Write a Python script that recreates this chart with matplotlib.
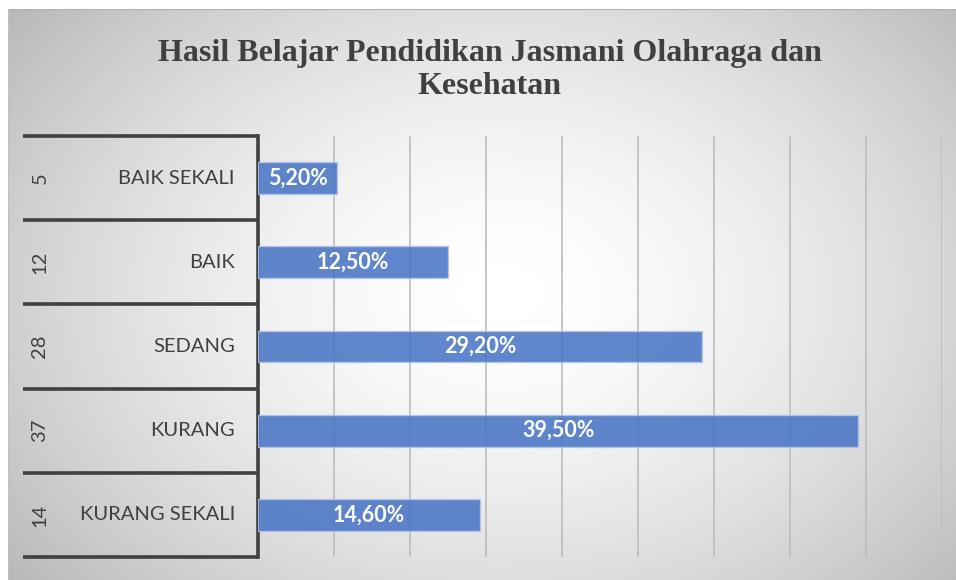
import numpy as np
import matplotlib.pyplot as plt
from matplotlib.transforms import blended_transform_factory

categories = ["BAIK SEKALI", "BAIK", "SEDANG", "KURANG", "KURANG SEKALI"]
counts = [5, 12, 28, 37, 14]
percents = [5.2, 12.5, 29.2, 39.5, 14.6]
title = "Hasil Belajar Pendidikan Jasmani Olahraga dan\nKesehatan"

W, H = 956, 580
fig = plt.figure(figsize=(W / 100, H / 100), dpi=100)

# chart area background (radial grey gradient), starts a few px in from the left/top
bg = fig.add_axes([8 / W, 0, 1 - 8 / W, 1 - 9 / H])
yy, xx = np.mgrid[0:1:300j, 0:1:500j]
r = np.sqrt(((xx - 0.52) / 0.62) ** 2 + ((yy - 0.5) / 0.75) ** 2)
shade = 1.0 - 0.25 * np.clip(r, 0, 1.2) ** 1.6
bg.imshow(shade, cmap="gray", vmin=0, vmax=1, aspect="auto", extent=[0, 1, 0, 1])
bg.plot([0, 1], [1, 1], color="#b0b0b0", lw=1.5)
bg.plot([0, 0], [0, 1], color="#c0c0c0", lw=1.5)
bg.set_xlim(0, 1)
bg.set_ylim(0, 1)
bg.axis("off")

# plot area
left, right, top, bottom = 258, 942, 136, 557
ax = fig.add_axes([left / W, 1 - bottom / H, (right - left) / W, (bottom - top) / H])
ax.patch.set_alpha(0)

y = np.arange(len(categories))
ax.barh(y, percents, height=0.38, color="#4472c4", alpha=0.85,
        edgecolor="#b4c7e7", linewidth=1, zorder=3)
for yi, p in zip(y, percents):
    ax.text(p / 2, yi, f"{p:.2f}%".replace(".", ","), ha="center", va="center",
            color="white", fontsize=15.5, fontweight="bold", family="Lato", zorder=4)

ax.set_xlim(0, 45)
ax.set_ylim(len(categories) - 0.5, -0.5)
ax.set_xticks(np.arange(5, 46, 5))
ax.grid(axis="x", color="#bdbdbd", lw=1.2, zorder=0)
ax.tick_params(left=False, bottom=False, labelleft=False, labelbottom=False)
for s in ["top", "right", "bottom"]:
    ax.spines[s].set_visible(False)
ax.spines["left"].set_color("#404040")
ax.spines["left"].set_linewidth(2.6)

# multi-level category labels on the left
tr = blended_transform_factory(fig.transFigure, ax.transData)
for b in np.arange(len(categories) + 1) - 0.5:
    ax.plot([23 / W, left / W], [b, b], color="#404040", lw=2.6, transform=tr,
            clip_on=False, solid_capstyle="butt")
for yi, cat, n in zip(y, categories, counts):
    ax.text(235 / W, yi, cat, transform=tr, ha="right", va="center",
            fontsize=14.5, color="#404040", family="Lato")
    ax.text(40 / W, yi, str(n), transform=tr, ha="center", va="center",
            rotation=90, fontsize=14.5, color="#404040", family="Lato")

fig.text(490 / W, 1 - 70 / H, title, ha="center", va="center", fontsize=23,
         fontweight="bold", family="Liberation Serif", color="#404040",
         linespacing=1.22)

fig.savefig("out.png", dpi=100)
